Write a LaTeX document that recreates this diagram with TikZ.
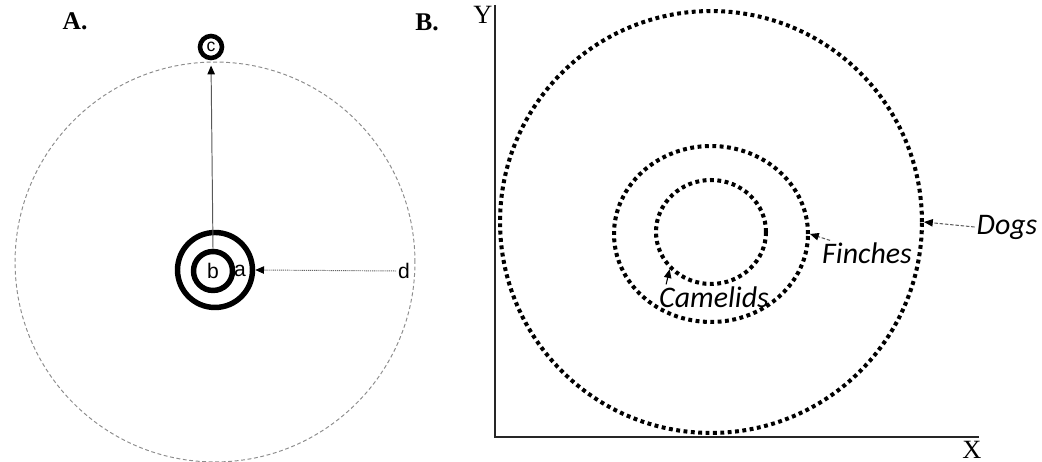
\documentclass[tikz,border=0pt]{standalone}
\usepackage{fontspec}
\setmainfont{Liberation Serif}
\newfontfamily\arialfont{Liberation Sans}
\newfontfamily\calibrifont{Carlito}
\usetikzlibrary{arrows.meta,positioning,shapes.geometric}

\begin{document}
\begin{tikzpicture}[x=0.02cm,y=0.02cm,
  ring/.style={draw,circle,line width=3.1pt,inner sep=0pt,font=\arialfont\fontsize{12}{14}\selectfont},
  lbl/.style={font=\arialfont\fontsize{12}{14}\selectfont,inner sep=1pt},
  panel/.style={font=\bfseries\fontsize{14.5}{16}\selectfont,inner sep=0pt},
  axlbl/.style={font=\fontsize{15}{17}\selectfont,inner sep=0pt},
  orbit/.style={draw=gray!90,circle,dash pattern=on 2.2pt off 1.5pt,line width=0.55pt,inner sep=0pt},
  dots/.style={draw,ellipse,line width=2.3pt,dash pattern=on 2.2pt off 2pt,inner sep=0pt},
  group/.style={font=\calibrifont\itshape\fontsize{17}{19}\selectfont,inner sep=1pt},
  tip/.style={-{Triangle[length=5pt,width=4.2pt,color=black]}},
  ar/.style={tip,gray!70!black,line width=0.55pt},
  ard/.style={tip,gray!80!black,line width=0.55pt,dash pattern=on 0.6pt off 0.5pt},
  arg/.style={tip,gray!75!black,line width=0.6pt,dash pattern=on 2pt off 1pt},
  axis/.style={line width=1.1pt,black!85}
]
\useasboundingbox (0,0) rectangle (1042,462);
% panel A: nested rings and the orbit
\node[panel] (pA) at (75,441) {A.};
\node[orbit,minimum size=8cm] (orbit) at (215,200) {};
\node[ring,minimum size=1.5cm] (ringA) at (215,192) {};
\node[ring,minimum size=0.78cm] (ringB) at (213,191) {b};
\node[ring,minimum size=0.44cm,line width=2.6pt,font=\arialfont\fontsize{10}{11}\selectfont] (ringC) at (211,415) {c};
\node[lbl] (la) at (240,191) {a};
\node[lbl] (ld) at (404,191) {d};
\draw[ar,shorten >=3pt] (ringB.north) -- (ringC.south);
\draw[ard] (ld.west) -- (ringA.east);
% panel B: axes and dotted ranges
\node[panel] (pB) at (427,440) {B.};
\coordinate (ytop) at (495,457);
\coordinate (xend) at (979,25);
\draw[axis] (ytop) |- (xend);
\node[axlbl] (ly) at (483,447) {Y};
\node[axlbl] (lx) at (972,12) {X};
\node[dots,minimum width=8.44cm,minimum height=8.44cm] (dogsC) at (711,240) {};
\node[dots,minimum width=3.88cm,minimum height=3.52cm] (finchC) at (711,228) {};
\node[dots,minimum width=2.2cm,minimum height=2.08cm] (camelC) at (711,230) {};
\node[group] (dogs) at (1007,235) {Dogs};
\node[group] (finches) at (867,209) {Finches};
\node[group] (camelids) at (714,165) {Camelids};
\draw[arg] (dogs.west) -- (dogsC.east);
\draw[arg] ([shift={(10,0)}]finches.north west) -- (finchC.east);
\draw[tip,black,line width=0.6pt] ([shift={(9,0)}]camelids.north west) -- (camelC.222);
\end{tikzpicture}
\end{document}
